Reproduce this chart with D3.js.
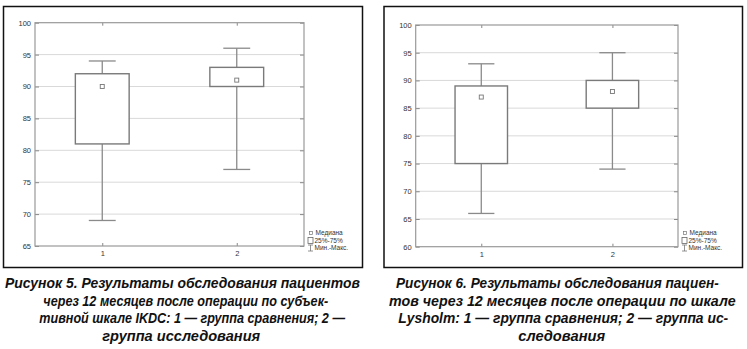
<!DOCTYPE html>
<html>
<head>
<meta charset="utf-8">
<script src="https://cdn.jsdelivr.net/npm/d3@7/dist/d3.min.js"></script>
<style>
  html, body { margin: 0; padding: 0; background: #fff; }
  svg { display: block; }
</style>
</head>
<body>
<svg id="chart" width="747" height="349"></svg>
<script>
// Groups on the x axis
const groups = ["1", "2"];

// Рисунок 5 — IKDC: min, quartiles, median, max per group
const ikdcMin    = [69, 77];
const ikdcQ1     = [81, 90];
const ikdcMedian = [90, 91];
const ikdcQ3     = [92, 93];
const ikdcMax    = [94, 96];
const ikdcTicks  = [65, 70, 75, 80, 85, 90, 95, 100];

// Рисунок 6 — Lysholm
const lysMin    = [66, 74];
const lysQ1     = [75, 85];
const lysMedian = [87, 88];
const lysQ3     = [89, 90];
const lysMax    = [93, 95];
const lysTicks  = [60, 65, 70, 75, 80, 85, 90, 95, 100];

const legendLabels = ["Медиана", "25%-75%", "Мин.-Макс."];

const captionLeft = [
  "Рисунок 5. Результаты обследования пациентов",
  "через 12 месяцев после операции по субъек-",
  "тивной шкале IKDC: 1 — группа сравнения; 2 —",
  "группа исследования"
];
const captionRight = [
  "Рисунок 6. Результаты обследования пациен-",
  "тов через 12 месяцев после операции по шкале",
  "Lysholm: 1 — группа сравнения; 2 — группа ис-",
  "следования"
];

const svg = d3.select("#chart");
const tickFont = "Liberation Sans, Arial, sans-serif";

function drawPanel(p) {
  // outer frame
  svg.append("rect")
    .attr("x", p.frame[0]).attr("y", p.frame[1])
    .attr("width", p.frame[2] - p.frame[0]).attr("height", p.frame[3] - p.frame[1])
    .attr("fill", "none").attr("stroke", "#111").attr("stroke-width", 1.5);

  const x = d3.scalePoint().domain(groups).range([p.left, p.right]).padding(0.5);
  const y = d3.scaleLinear().domain([p.ticks[0], p.ticks[p.ticks.length - 1]]).range([p.bottom, p.top]);
  const step = x.step();
  const boxW = step * 0.4, capW = step * 0.2;

  const g = svg.append("g");

  // horizontal grid
  g.append("g").selectAll("line")
    .data(p.ticks.slice(1, -1))
    .join("line")
    .attr("x1", p.left).attr("x2", p.right)
    .attr("y1", d => y(d)).attr("y2", d => y(d))
    .attr("stroke", "#d9d9d9").attr("stroke-width", 1);

  // axes (inward ticks)
  const styleAxis = sel => {
    sel.select(".domain").remove();
    sel.selectAll(".tick line").attr("stroke", "#888");
    sel.selectAll("text").attr("fill", "#333")
      .style("font-family", tickFont).style("font-size", "7.5px");
  };
  g.append("g").attr("transform", `translate(${p.left},0)`)
    .call(d3.axisLeft(y).tickValues(p.ticks).tickFormat(d3.format("d")).tickSize(-4).tickPadding(4))
    .call(styleAxis);
  g.append("g").attr("transform", `translate(${p.right},0)`)
    .call(d3.axisRight(y).tickValues(p.ticks).tickFormat("").tickSize(-4))
    .call(styleAxis);
  g.append("g").attr("transform", `translate(0,${p.bottom})`)
    .call(d3.axisBottom(x).tickSize(-3).tickPadding(5))
    .call(styleAxis);
  g.append("g").attr("transform", `translate(0,${p.top})`)
    .call(d3.axisTop(x).tickFormat("").tickSize(-3))
    .call(styleAxis);

  // plot border
  g.append("rect")
    .attr("x", p.left).attr("y", p.top)
    .attr("width", p.right - p.left).attr("height", p.bottom - p.top)
    .attr("fill", "none").attr("stroke", "#999").attr("stroke-width", 1.2);

  const rows = groups.map((k, i) => ({
    k, min: p.min[i], q1: p.q1[i], med: p.median[i], q3: p.q3[i], max: p.max[i]
  }));

  const wc = "#8a8a8a";
  const box = g.append("g").selectAll("g").data(rows).join("g");
  // whiskers
  box.append("line")
    .attr("x1", d => x(d.k)).attr("x2", d => x(d.k))
    .attr("y1", d => y(d.max)).attr("y2", d => y(d.q3))
    .attr("stroke", wc).attr("stroke-width", 1.3);
  box.append("line")
    .attr("x1", d => x(d.k)).attr("x2", d => x(d.k))
    .attr("y1", d => y(d.q1)).attr("y2", d => y(d.min))
    .attr("stroke", wc).attr("stroke-width", 1.3);
  box.append("line")
    .attr("x1", d => x(d.k) - capW / 2).attr("x2", d => x(d.k) + capW / 2)
    .attr("y1", d => y(d.max)).attr("y2", d => y(d.max))
    .attr("stroke", wc).attr("stroke-width", 1.3);
  box.append("line")
    .attr("x1", d => x(d.k) - capW / 2).attr("x2", d => x(d.k) + capW / 2)
    .attr("y1", d => y(d.min)).attr("y2", d => y(d.min))
    .attr("stroke", wc).attr("stroke-width", 1.3);
  // quartile box
  box.append("rect")
    .attr("x", d => x(d.k) - boxW / 2).attr("width", boxW)
    .attr("y", d => y(d.q3)).attr("height", d => y(d.q1) - y(d.q3))
    .attr("fill", "#fff").attr("stroke", "#7a7a7a").attr("stroke-width", 1.4);
  // median marker
  box.append("rect")
    .attr("x", d => x(d.k) - 2).attr("y", d => y(d.med) - 2)
    .attr("width", 4).attr("height", 4)
    .attr("fill", "#fff").attr("stroke", "#777").attr("stroke-width", 0.9);

  // legend
  const lx = p.right + 4, ly = [233, 240.5, 248];
  const lg = svg.append("g");
  lg.append("rect").attr("x", lx + 1.5).attr("y", ly[0] - 1.5).attr("width", 3).attr("height", 3)
    .attr("fill", "#fff").attr("stroke", "#777").attr("stroke-width", 0.7);
  lg.append("rect").attr("x", lx).attr("y", ly[1] - 3).attr("width", 5).attr("height", 6)
    .attr("fill", "#fff").attr("stroke", "#666").attr("stroke-width", 0.8);
  lg.append("path")
    .attr("d", `M${lx},${ly[2] - 3}h5M${lx + 2.5},${ly[2] - 3}v6M${lx},${ly[2] + 3}h5`)
    .attr("fill", "none").attr("stroke", "#777").attr("stroke-width", 0.8);
  lg.selectAll("text").data(legendLabels).join("text")
    .attr("x", (d, i) => lx + (i === 0 ? 7.5 : 6.5))
    .attr("y", (d, i) => ly[i])
    .attr("dy", "0.35em")
    .attr("fill", "#333")
    .style("font-family", tickFont).style("font-size", "6.5px")
    .text(d => d);

  // caption: bold italic lines, condensed horizontally to the column width
  svg.append("g").selectAll("text").data(p.caption).join("text")
    .attr("y", (d, i) => 288.5 + i * 17.4)
    .attr("fill", "#111")
    .style("font-family", "Liberation Sans, Arial, sans-serif")
    .style("font-size", "15px").style("font-weight", "bold").style("font-style", "italic")
    .text(d => d)
    .each(function (d, i) {
      const natural = this.getComputedTextLength();
      const sx = p.capW[i] / natural;
      d3.select(this).attr("transform", `translate(${p.capX[i]},0) scale(${sx},1)`);
    });
}

drawPanel({
  frame: [3.5, 6.5, 362.5, 267.5],
  left: 35, right: 304, top: 22.7, bottom: 246,
  ticks: ikdcTicks,
  min: ikdcMin, q1: ikdcQ1, median: ikdcMedian, q3: ikdcQ3, max: ikdcMax,
  caption: captionLeft,
  capX: [5, 43.3, 39.3, 102.3],
  capW: [355, 285, 306, 158]
});

drawPanel({
  frame: [384, 6.5, 742.5, 267.5],
  left: 415.7, right: 678, top: 25, bottom: 246.7,
  ticks: lysTicks,
  min: lysMin, q1: lysQ1, median: lysMedian, q3: lysQ3, max: lysMax,
  caption: captionRight,
  capX: [396, 389, 398.3, 518.3],
  capW: [323, 347, 330, 87]
});
</script>
</body>
</html>
